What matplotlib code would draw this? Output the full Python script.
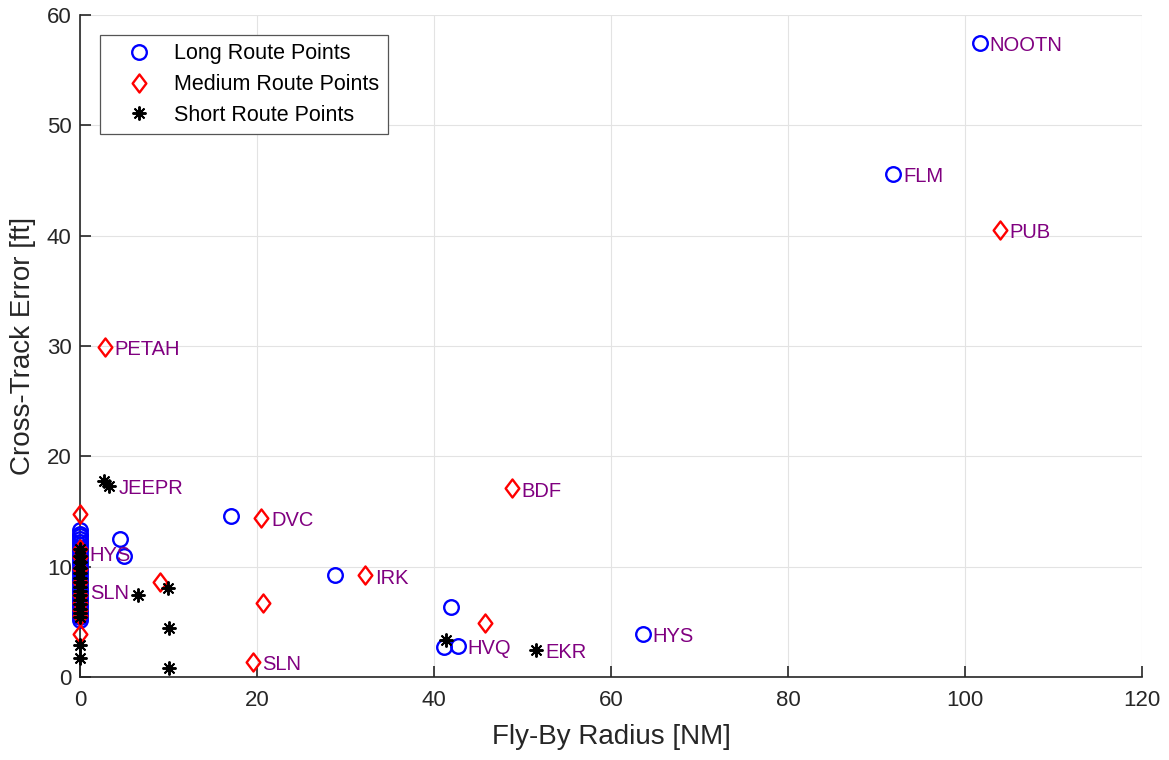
import matplotlib.pyplot as plt
from matplotlib.path import Path

# =====================================================
# DATA
# =====================================================
long_x = [101.7, 91.9, 17.1, 4.5, 5.0, 28.8, 41.9, 41.1, 42.7, 63.6,
          0, 0, 0, 0, 0, 0, 0, 0, 0, 0, 0, 0, 0, 0, 0, 0, 0, 0, 0, 0,
          0, 0, 0, 0, 0, 0, 0, 0, 0]
long_y = [57.5, 45.6, 14.6, 12.5, 11.0, 9.25, 6.3, 2.7, 2.8, 3.9,
          13.3, 13.0, 12.8, 12.5, 12.2, 12.0, 11.7, 11.4, 11.1, 10.8,
          10.5, 10.2, 9.9, 9.6, 9.3, 9.0, 8.7, 8.4, 8.1, 7.8,
          7.5, 7.2, 6.9, 6.6, 6.3, 6.0, 5.7, 5.4, 5.2]

med_x = [103.9, 2.8, 48.8, 20.5, 32.2, 9.0, 20.7, 19.5, 45.8,
         0, 0, 0, 0, 0, 0, 0, 0, 0, 0]
med_y = [40.5, 29.9, 17.1, 14.4, 9.2, 8.6, 6.7, 1.4, 4.9,
         14.8, 3.9, 11.6, 10.9, 9.8, 8.6, 7.4, 6.7, 6.1, 5.5]

short_x = [2.7, 3.3, 6.6, 10.0, 10.1, 10.1, 41.4, 51.5,
           0, 0, 0, 0, 0, 0, 0, 0, 0, 0, 0, 0, 0, 0, 0, 0, 0]
short_y = [17.8, 17.3, 7.4, 8.1, 4.4, 0.8, 3.35, 2.45,
           11.6, 11.0, 10.4, 9.9, 9.4, 9.0, 8.6, 8.2, 7.8, 7.4,
           7.0, 6.6, 6.2, 5.8, 5.4, 2.9, 1.7]

label_names = ["NOOTN", "FLM", "PUB", "PETAH", "JEEPR", "BDF", "DVC", "HYS",
               "SLN", "IRK", "SLN", "HVQ", "EKR", "HYS"]
label_x = [101.7, 91.9, 103.9, 2.8, 3.3, 48.8, 20.5, 0.0,
           0.0, 32.2, 19.5, 42.7, 51.5, 63.6]
label_y = [57.5, 45.6, 40.5, 29.9, 17.3, 17.1, 14.4, 11.3,
           7.8, 9.2, 1.4, 2.8, 2.45, 3.9]

# =====================================================
# PLOT
# =====================================================
plt.rcParams['font.family'] = ['Liberation Sans', 'DejaVu Sans']

# MATLAB-style diamond (wider than matplotlib's thin one)
diamond = Path([(0, 1), (0.76, 0), (0, -1), (-0.76, 0), (0, 1)],
               [Path.MOVETO, Path.LINETO, Path.LINETO, Path.LINETO, Path.CLOSEPOLY])

fig = plt.figure(figsize=(11.69, 7.6), dpi=100)
ax = fig.add_axes([0.0684, 0.1092, 0.9085, 0.8711])

ax.plot(long_x, long_y, 'o', ls='none', mfc='none', mec='blue', mew=1.7,
        ms=10.5, label="Long Route Points", zorder=3, clip_on=False)
ax.plot(med_x, med_y, marker=diamond, ls='none', mfc='none', mec='red', mew=1.7,
        ms=13, label="Medium Route Points", zorder=3, clip_on=False)
ax.plot(short_x, short_y, marker=(8, 2, 0), ls='none', color='black', mew=1.4,
        ms=10, label="Short Route Points", zorder=3, clip_on=False)

for name, x, y in zip(label_names, label_x, label_y):
    ax.annotate(name, (x, y), xytext=(7, -2), textcoords='offset points',
                color='#800080', fontsize=14.5, va='center', ha='left', zorder=4)

ax.set_xlim(0, 120)
ax.set_ylim(0, 60)
ax.set_xticks(range(0, 121, 20))
ax.set_yticks(range(0, 61, 10))
ax.grid(True, color='#e3e3e3', lw=0.8)
ax.set_axisbelow(True)
ax.spines['top'].set_visible(False)
ax.spines['right'].set_visible(False)
for s in ('left', 'bottom'):
    ax.spines[s].set_color('#262626')
    ax.spines[s].set_linewidth(1.2)
ax.tick_params(direction='in', length=8, width=1.2, labelsize=16,
               colors='#262626', pad=6)
ax.tick_params(axis='x', pad=9)
ax.set_xlabel("Fly-By Radius [NM]", fontsize=20, color='#262626', labelpad=10)
ax.set_ylabel("Cross-Track Error [ft]", fontsize=20, color='#262626', labelpad=8)

leg = ax.legend(loc='upper left', bbox_to_anchor=(0.0188, 0.970), fontsize=15.5,
                fancybox=False, framealpha=1, edgecolor='#555555',
                handletextpad=0.25, handlelength=2.8, borderpad=0.4,
                labelspacing=0.45, borderaxespad=0)
leg.get_frame().set_linewidth(0.9)

fig.savefig("out.png", dpi=100)
